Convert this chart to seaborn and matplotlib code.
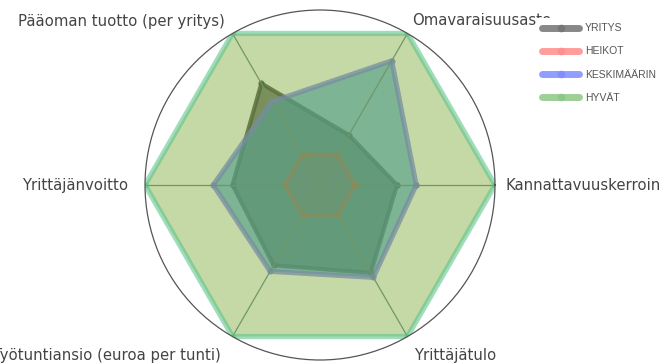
import numpy as np
import pandas as pd
import matplotlib
matplotlib.use("Agg")
import matplotlib.pyplot as plt
import seaborn as sns
from matplotlib.lines import Line2D

# Indicator axes, counter-clockwise from the right
categories = [
    "Kannattavuuskerroin",
    "Omavaraisuusaste",
    "Pääoman tuotto (per yritys)",
    "Yrittäjänvoitto",
    "Työtuntiansio (euroa per tunti)",
    "Yrittäjätulo",
]

# Index values (0-100) per group
yritys = [44, 33, 67, 50, 53, 58]
heikot = [20, 20, 20, 20, 20, 20]
keskimaarin = [55, 82, 55, 61, 57, 61]
hyvat = [100, 100, 100, 100, 100, 100]

series_names = ["YRITYS", "HEIKOT", "KESKIMÄÄRIN", "HYVÄT"]
r_max = 100

sns.set_theme(style="white")
plt.rcParams["font.family"] = ["DejaVu Sans"]

fig = plt.figure(figsize=(6.6, 3.64), dpi=100)
ax = fig.add_axes([0.2197, 0.011, 0.5303, 0.9615], projection="polar")

theta = np.deg2rad(np.arange(len(categories)) * 60.0)
theta_closed = np.append(theta, theta[0] + 2 * np.pi)

# style per group: fill colour, fill alpha, line colour, line alpha, line width, zorder
styles = {
    "YRITYS":      dict(fc=(0.27, 0.27, 0.27), fa=0.80, lc=(0.16, 0.16, 0.16), la=0.85, lw=3.0, z=1.0),
    "KESKIMÄÄRIN": dict(fc=(0.13, 0.55, 0.79), fa=0.65, lc=(0.38, 0.40, 0.95), la=0.75, lw=3.6, z=1.5),
    "HEIKOT":      dict(fc=(0.85, 0.15, 0.15), fa=0.08, lc=(0.70, 0.33, 0.28), la=0.40, lw=3.2, z=2.0),
    "HYVÄT":       dict(fc=(0.55, 0.71, 0.31), fa=0.50, lc=(0.33, 0.76, 0.53), la=0.55, lw=3.8, z=3.0),
}
values = {"YRITYS": yritys, "HEIKOT": heikot, "KESKIMÄÄRIN": keskimaarin, "HYVÄT": hyvat}

for name in ["YRITYS", "KESKIMÄÄRIN", "HEIKOT", "HYVÄT"]:
    st = styles[name]
    vals = list(values[name])
    df = pd.DataFrame({"theta": theta_closed, "r": vals + vals[:1]})
    ax.fill(df["theta"], df["r"], color=st["fc"], alpha=st["fa"], lw=0, zorder=st["z"])
    sns.lineplot(data=df, x="theta", y="r", sort=False, estimator=None, ax=ax,
                 color=st["lc"], alpha=st["la"], lw=st["lw"], marker="o",
                 markersize=4.5, markeredgewidth=0, zorder=st["z"] + 0.1)

ax.set_xlabel("")
ax.set_ylabel("")
ax.set_xlim(0, 2 * np.pi)
ax.set_ylim(0, r_max)
ax.set_yticks([])
ax.set_xticks(theta)
ax.set_xticklabels([])
ax.set_axisbelow(False)
ax.xaxis.grid(True, color=(0.33, 0.47, 0.51), lw=0.9, zorder=2.5)
ax.yaxis.grid(False)
ax.tick_params(axis="x", length=6, width=0.8, color="#555555", direction="out", pad=0)
ax.spines["polar"].set_color("#555555")
ax.spines["polar"].set_linewidth(0.9)
ax.spines["polar"].set_zorder(5)
ax.set_facecolor("white")

# axis labels at the outer vertices
label_pos = [
    (11, 0, "left", "center"),
    (5, 13, "left", "center"),
    (-8, 12, "right", "center"),
    (-17, 0, "right", "center"),
    (-12, -19, "right", "center"),
    (7, -19, "left", "center"),
]
for t, lab, (dx, dy, ha, va) in zip(theta, categories, label_pos):
    ax.annotate(lab, xy=(t, r_max), xytext=(dx, dy), textcoords="offset pixels",
                ha=ha, va=va, fontsize=10.7, color="#444444", annotation_clip=False)

legend_colors = {
    "YRITYS": (0.45, 0.45, 0.45),
    "HEIKOT": (1.00, 0.55, 0.55),
    "KESKIMÄÄRIN": (0.50, 0.55, 1.00),
    "HYVÄT": (0.55, 0.78, 0.52),
}
handles = [Line2D([0], [0], color=legend_colors[n], lw=5, alpha=0.85, marker="o",
                  markersize=5.5, markeredgewidth=0) for n in series_names]
leg = fig.legend(handles, series_names, loc="upper left",
                 bbox_to_anchor=(537 / 660, 1 - 18 / 364), frameon=True,
                 prop={"family": "Liberation Sans", "size": 7.5}, labelcolor="#555555",
                 handlelength=3.55, labelspacing=1.27, borderpad=0.5, handletextpad=0.55,
                 borderaxespad=0, fancybox=False)
leg.get_frame().set_facecolor("white")
leg.get_frame().set_edgecolor("none")
leg.get_frame().set_alpha(1.0)
leg.set_zorder(10)

fig.savefig("out.png", dpi=100, facecolor="white")
